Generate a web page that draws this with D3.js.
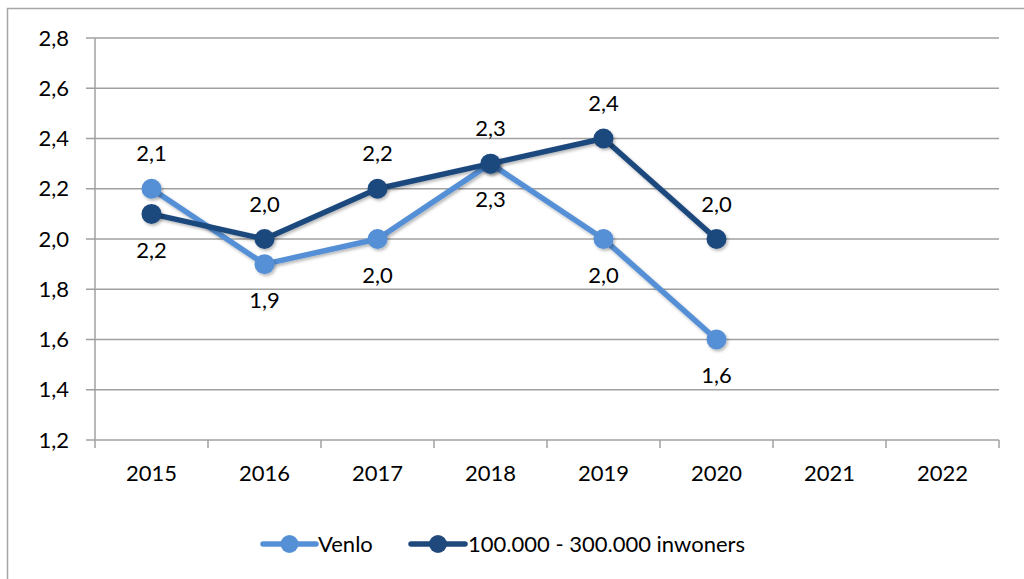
<!DOCTYPE html>
<html>
<head>
<meta charset="utf-8">
<script src="https://cdn.jsdelivr.net/npm/d3@7"></script>
<style>
  html, body { margin: 0; padding: 0; background: #fff; }
  svg { display: block; font-family: Lato, "Open Sans", sans-serif; }
</style>
</head>
<body>
<svg id="chart" width="1024" height="579"></svg>
<script>
// Data
const years = ["2015", "2016", "2017", "2018", "2019", "2020", "2021", "2022"];
const venlo = [2.2, 1.9, 2.0, 2.3, 2.0, 1.6];
const inwoners = [2.1, 2.0, 2.2, 2.3, 2.4, 2.0];
const yTicks = [1.2, 1.4, 1.6, 1.8, 2.0, 2.2, 2.4, 2.6, 2.8];
const seriesNames = ["Venlo", "100.000 - 300.000 inwoners"];

const colorLight = "#5590D6";
const colorDark = "#1F497D";
const gridColor = "#A0A0A0";
const fontSize = 22;

const svg = d3.select("#chart");
const fmt = v => d3.format(".1f")(v).replace(".", ",");

// Shadow for markers and lines
const defs = svg.append("defs");
const f = defs.append("filter").attr("id", "shadow")
  .attr("x", "-50%").attr("y", "-50%").attr("width", "200%").attr("height", "200%");
f.append("feDropShadow").attr("dx", 1.5).attr("dy", 2).attr("stdDeviation", 1.8)
  .attr("flood-color", "#000").attr("flood-opacity", 0.28);

// Outer frame
svg.append("path")
  .attr("d", "M7.5,579 L7.5,8.5 L1024,8.5")
  .attr("fill", "none").attr("stroke", "#A6A6A6").attr("stroke-width", 1.5);

const x = d3.scaleBand().domain(years).range([95, 999]);
const y = d3.scaleLinear().domain([1.2, 2.8]).range([440, 38]);
const cx = i => x(years[i]) + x.bandwidth() / 2;

// Horizontal gridlines
svg.append("g").selectAll("line").data(yTicks).join("line")
  .attr("x1", 86).attr("x2", 999)
  .attr("y1", d => y(d)).attr("y2", d => y(d))
  .attr("stroke", gridColor).attr("stroke-width", 1.5);

// Y axis line
svg.append("line").attr("x1", 95).attr("x2", 95).attr("y1", y(2.8)).attr("y2", 448)
  .attr("stroke", gridColor).attr("stroke-width", 1.5);

// Category tick marks
svg.append("g").selectAll("line").data(years).join("line")
  .attr("x1", (d, i) => 95 + x.bandwidth() * (i + 1))
  .attr("x2", (d, i) => 95 + x.bandwidth() * (i + 1))
  .attr("y1", 440).attr("y2", 448)
  .attr("stroke", gridColor).attr("stroke-width", 1.5);

// Y tick labels
svg.append("g").selectAll("text").data(yTicks).join("text")
  .attr("x", 69).attr("y", d => y(d)).attr("dy", "0.35em")
  .attr("text-anchor", "end").attr("font-size", fontSize).attr("fill", "#000")
  .text(fmt);

// X tick labels
svg.append("g").selectAll("text").data(years).join("text")
  .attr("x", d => x(d) + x.bandwidth() / 2).attr("y", 473).attr("dy", "0.35em")
  .attr("text-anchor", "middle").attr("font-size", fontSize).attr("fill", "#000")
  .text(d => d);

const line = d3.line().x((d, i) => cx(i)).y(d => y(d));

function drawSeries(values, color) {
  const g = svg.append("g");
  g.append("path").datum(values).attr("d", line)
    .attr("fill", "none").attr("stroke", color).attr("stroke-width", 5.5)
    .attr("stroke-linejoin", "round").attr("filter", "url(#shadow)");
  g.selectAll("circle").data(values).join("circle")
    .attr("cx", (d, i) => cx(i)).attr("cy", d => y(d)).attr("r", 10)
    .attr("fill", color).attr("filter", "url(#shadow)");
}
drawSeries(venlo, colorLight);
drawSeries(inwoners, colorDark);

// Data labels: the larger-population series above the upper point, Venlo below the lower point
svg.append("g").selectAll("text").data(inwoners).join("text")
  .attr("x", (d, i) => cx(i))
  .attr("y", (d, i) => y(Math.max(d, venlo[i])) - 35).attr("dy", "0.35em")
  .attr("text-anchor", "middle").attr("font-size", fontSize).attr("fill", "#000")
  .text(fmt);
svg.append("g").selectAll("text").data(venlo).join("text")
  .attr("x", (d, i) => cx(i))
  .attr("y", (d, i) => y(Math.min(d, inwoners[i])) + 36).attr("dy", "0.35em")
  .attr("text-anchor", "middle").attr("font-size", fontSize).attr("fill", "#000")
  .text(fmt);

// Legend
const legend = [
  { name: seriesNames[0], color: colorLight, x0: 263, x1: 316, tx: 318 },
  { name: seriesNames[1], color: colorDark, x0: 411, x1: 465, tx: 468 }
];
const lg = svg.append("g");
legend.forEach(l => {
  lg.append("line").attr("x1", l.x0).attr("x2", l.x1).attr("y1", 544).attr("y2", 544)
    .attr("stroke", l.color).attr("stroke-width", 5.5).attr("stroke-linecap", "round");
  lg.append("circle").attr("cx", (l.x0 + l.x1) / 2).attr("cy", 544).attr("r", 9)
    .attr("fill", l.color);
  lg.append("text").attr("x", l.tx).attr("y", 544).attr("dy", "0.35em")
    .attr("font-size", fontSize).attr("fill", "#000").text(l.name);
});
</script>
</body>
</html>
